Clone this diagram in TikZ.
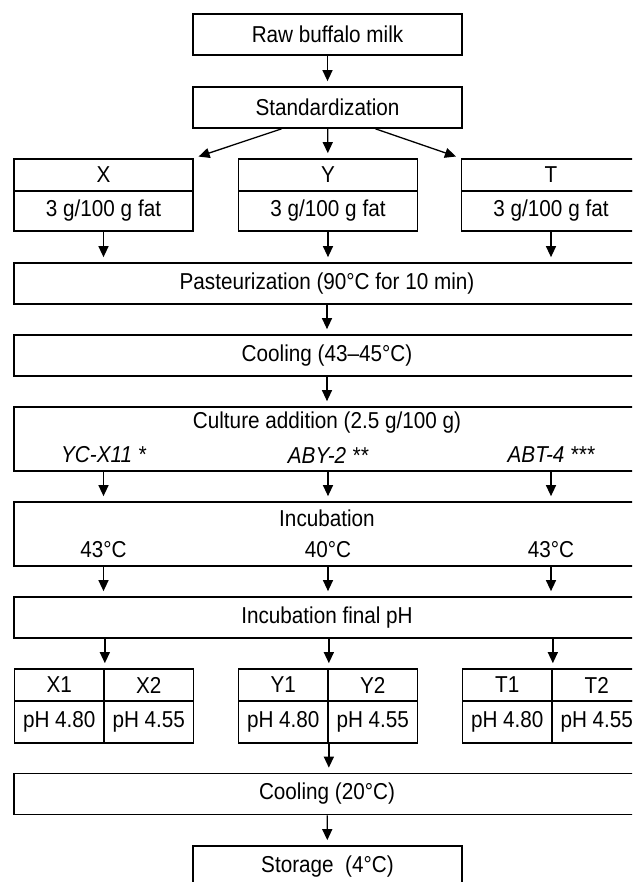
\documentclass[tikz,border=0pt]{standalone}
\usepackage{fontspec}
\setmainfont{Liberation Sans}[FakeStretch=0.9]
\usetikzlibrary{arrows.meta,positioning}
\tikzset{
  box/.style={draw,line width=1.7pt,minimum height=41pt,inner sep=0pt,font=\fontsize{23}{27}\selectfont},
  wide/.style={box,minimum width=626pt},
  mid/.style={box,minimum width=269pt},
  cell/.style={box,minimum width=179pt},
  half/.style={box,minimum width=89.5pt},
  lbl/.style={inner sep=0pt,font=\fontsize{23}{27}\selectfont},
  arr/.style={-{Triangle[length=11pt,width=10pt]},line width=1.3pt,shorten >=5pt},
}

\begin{document}
\begin{tikzpicture}[x=1pt,y=-1pt]
  \clip (0,0) rectangle (632,882);
  \node[mid] (raw) at (327.5,34.5) {Raw buffalo milk};
  \node[mid] (std) at (327.5,107.5) {Standardization};
  \foreach \n/\x in {X/103.5,Y/328,T/551}{
    \node[cell,minimum height=32pt] (h\n) at (\x,175) {\n};
    \node[cell,minimum height=40pt] (f\n) at (\x,211) {3 g/100 g fat};}
  \node[wide] (past) at (327,283.5) {Pasteurization (90°C for 10 min)};
  \node[wide] (cool) at (327,355.5) {Cooling (43--45°C)};
  % culture and incubation boxes carry their own labels
  \node[wide,minimum height=64pt] (cult) at (327,439) {};
  \node[lbl] (cultt) at (327,423) {Culture addition (2.5 g/100 g)};
  \foreach \n/\x/\s in {X/103.5/{YC-X11 *},Y/328/{ABY-2 **},T/551/{ABT-4 ***}}
    \node[lbl,font=\fontsize{23}{27}\selectfont\itshape] (c\n) at (\x,455) {\s};
  \node[wide,minimum height=64pt] (incu) at (327,534) {};
  \node[lbl] (incut) at (327,518) {Incubation};
  \foreach \n/\x/\t in {X/103.5/43,Y/328/40,T/551/43}
    \node[lbl] (i\n) at (\x,550) {\t°C};
  \node[wide] (fph) at (327,617.5) {Incubation final pH};
  \foreach \n/\x in {X/104,Y/328,T/552}{
    \node[half,minimum height=32pt] (\n1) at (\x-44.75,685) {\n1};
    \node[half,minimum height=32pt] (\n2) at (\x+44.75,685) {\n2};
    \node[half,minimum height=42pt] (p\n1) at (\x-44.75,722) {pH 4.80};
    \node[half,minimum height=42pt] (p\n2) at (\x+44.75,722) {pH 4.55};}
  \node[wide] (cool2) at (327,794) {Cooling (20°C)};
  \node[mid] (stor) at (327.5,866.5) {Storage\ \ (4°C)};

  \draw[arr] (raw) -- (std);
  \draw[arr] ([xshift=-46pt]std.south) -- (hX.north east);
  \draw[arr] (std) -- (hY);
  \draw[arr] ([xshift=48pt]std.south) -- (hT.north west);
  \foreach \n in {X,Y,T}{
    \draw[arr] (f\n) -- (f\n |- past.north);
    \draw[arr] (c\n |- cult.south) -- (c\n |- incu.north);
    \draw[arr] (i\n |- incu.south) -- (i\n |- fph.north);
    \draw[arr] (\n1.north east |- fph.south) -- (\n1.north east);}
  \draw[arr] (past) -- (cool);
  \draw[arr] (cool) -- (cult);
  \draw[arr] (pY1.south east) -- (pY1.south east |- cool2.north);
  \draw[arr] (cool2) -- (stor);
\end{tikzpicture}
\end{document}
